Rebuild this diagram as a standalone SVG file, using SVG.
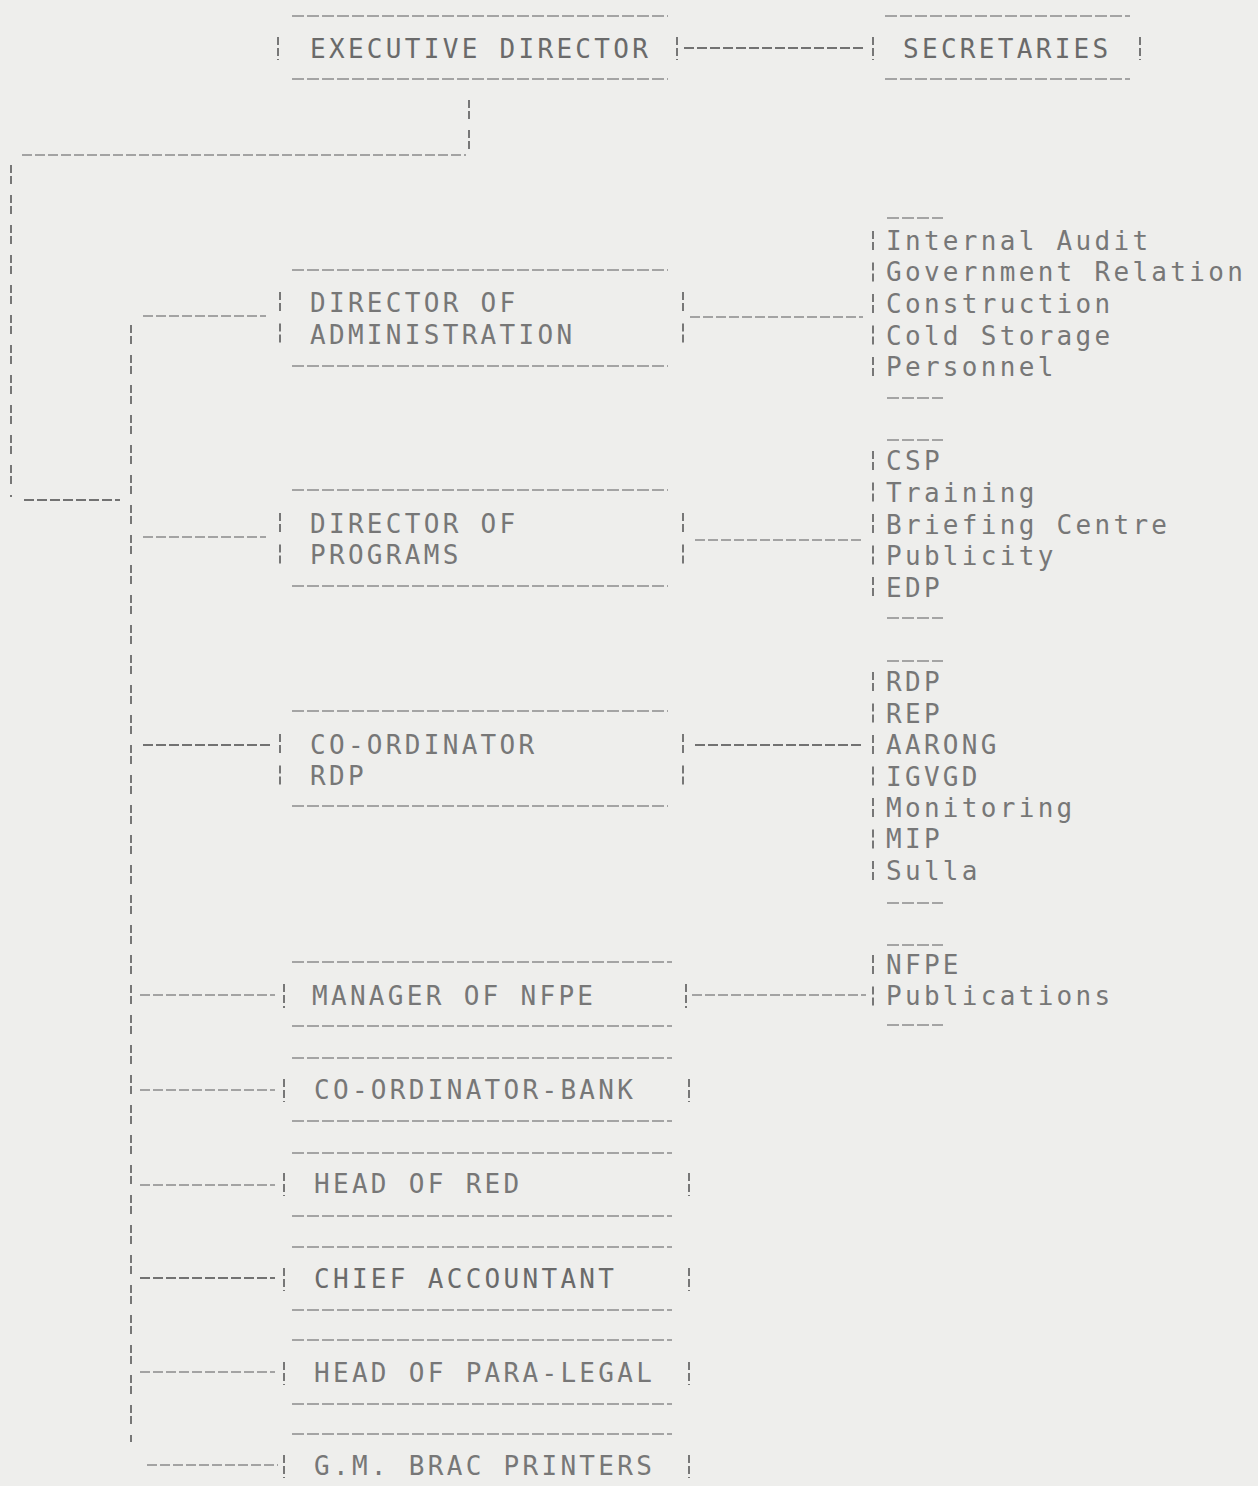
<svg xmlns="http://www.w3.org/2000/svg" width="1258" height="1486" viewBox="0 0 1258 1486">
<style>
.t{font-family:"DejaVu Sans Mono","Liberation Mono",monospace;font-size:26px;letter-spacing:3.3px;fill:#777777}
.h{stroke:#8c8c8c;stroke-width:1.7;stroke-dasharray:12 3;fill:none}
.v{stroke:#777777;stroke-width:2;stroke-dasharray:8 3;fill:none}
.c{stroke:#8a8a8a;stroke-width:1.6;stroke-dasharray:10 3;fill:none}
.s{stroke:#777777;stroke-width:2;stroke-dasharray:8 3 8 11;fill:none}
.lb{stroke:#777777;stroke-width:2;stroke-dasharray:8 3 8 12.5;fill:none}
</style>
<rect width="1258" height="1486" fill="#eeeeec"/>

<g id="connectors">
<line class="c" x1="684" y1="48" x2="866" y2="48" style="stroke-width:2;stroke:#727272"/>
<line class="s" x1="469" y1="100" x2="469" y2="153"/>
<line class="c" x1="22" y1="155" x2="466" y2="155"/>
<line class="s" x1="11" y1="165" x2="11" y2="497"/>
<line class="c" x1="24" y1="500" x2="120" y2="500" style="stroke-width:2;stroke:#727272"/>
<line class="s" x1="131" y1="325" x2="131" y2="1442"/>
<line class="c" x1="143" y1="316" x2="266" y2="316"/>
<line class="c" x1="690" y1="317" x2="863" y2="317"/>
<line class="c" x1="143" y1="537" x2="266" y2="537"/>
<line class="c" x1="695" y1="540" x2="862" y2="540"/>
<line class="c" x1="143" y1="745" x2="270" y2="745" style="stroke-width:2;stroke:#727272"/>
<line class="c" x1="695" y1="745" x2="862" y2="745" style="stroke-width:2;stroke:#727272"/>
<line class="c" x1="140" y1="995" x2="275" y2="995"/>
<line class="c" x1="692" y1="995" x2="866" y2="995"/>
<line class="c" x1="140" y1="1090" x2="275" y2="1090"/>
<line class="c" x1="140" y1="1185" x2="275" y2="1185"/>
<line class="c" x1="140" y1="1278" x2="275" y2="1278" style="stroke-width:2;stroke:#727272"/>
<line class="c" x1="140" y1="1372" x2="275" y2="1372"/>
<line class="c" x1="147" y1="1465" x2="278" y2="1465"/>
</g>

<g id="executive-director">
<line class="h" x1="292" y1="16" x2="668" y2="16"/>
<line class="h" x1="292" y1="79" x2="668" y2="79"/>
<line class="v" x1="278" y1="37" x2="278" y2="60"/>
<line class="v" x1="677" y1="37" x2="677" y2="60"/>
<text class="t" x="310" y="58" style="fill:#6a6a6a">EXECUTIVE DIRECTOR</text>
</g>

<g id="secretaries">
<line class="h" x1="885" y1="16" x2="1130" y2="16"/>
<line class="h" x1="885" y1="79" x2="1130" y2="79"/>
<line class="v" x1="873" y1="37" x2="873" y2="60"/>
<line class="v" x1="1140" y1="37" x2="1140" y2="60"/>
<text class="t" x="903" y="58" style="fill:#6a6a6a">SECRETARIES</text>
</g>

<g id="director-administration">
<line class="h" x1="292" y1="270" x2="668" y2="270"/>
<line class="h" x1="292" y1="366" x2="668" y2="366"/>
<line class="lb" x1="280" y1="292" x2="280" y2="347"/>
<line class="lb" x1="683" y1="292" x2="683" y2="347"/>
<text class="t" x="310" y="312">DIRECTOR OF</text>
<text class="t" x="310" y="344">ADMINISTRATION</text>
</g>

<g id="admin-units">
<line class="h" x1="887" y1="218" x2="943" y2="218"/>
<line class="h" x1="887" y1="398" x2="943" y2="398"/>
<line class="lb" x1="873" y1="231" x2="873" y2="380"/>
<text class="t" x="886" y="250">Internal Audit</text>
<text class="t" x="886" y="281">Government Relation</text>
<text class="t" x="886" y="313">Construction</text>
<text class="t" x="886" y="345">Cold Storage</text>
<text class="t" x="886" y="376">Personnel</text>
</g>

<g id="director-programs">
<line class="h" x1="292" y1="490" x2="668" y2="490"/>
<line class="h" x1="292" y1="586" x2="668" y2="586"/>
<line class="lb" x1="280" y1="513" x2="280" y2="568"/>
<line class="lb" x1="683" y1="513" x2="683" y2="568"/>
<text class="t" x="310" y="533">DIRECTOR OF</text>
<text class="t" x="310" y="564">PROGRAMS</text>
</g>

<g id="programs-units">
<line class="h" x1="887" y1="440" x2="943" y2="440"/>
<line class="h" x1="887" y1="618" x2="943" y2="618"/>
<line class="lb" x1="873" y1="451" x2="873" y2="601"/>
<text class="t" x="886" y="470">CSP</text>
<text class="t" x="886" y="502">Training</text>
<text class="t" x="886" y="534">Briefing Centre</text>
<text class="t" x="886" y="565">Publicity</text>
<text class="t" x="886" y="597">EDP</text>
</g>

<g id="coordinator-rdp">
<line class="h" x1="292" y1="711" x2="668" y2="711"/>
<line class="h" x1="292" y1="806" x2="668" y2="806"/>
<line class="lb" x1="280" y1="734" x2="280" y2="789"/>
<line class="lb" x1="683" y1="734" x2="683" y2="789"/>
<text class="t" x="310" y="754">CO-ORDINATOR</text>
<text class="t" x="310" y="785">RDP</text>
</g>

<g id="rdp-units">
<line class="h" x1="887" y1="661" x2="943" y2="661"/>
<line class="h" x1="887" y1="903" x2="943" y2="903"/>
<line class="lb" x1="873" y1="672" x2="873" y2="885"/>
<text class="t" x="886" y="691">RDP</text>
<text class="t" x="886" y="723">REP</text>
<text class="t" x="886" y="754">AARONG</text>
<text class="t" x="886" y="786">IGVGD</text>
<text class="t" x="886" y="817">Monitoring</text>
<text class="t" x="886" y="848">MIP</text>
<text class="t" x="886" y="880">Sulla</text>
</g>

<g id="manager-nfpe">
<line class="h" x1="292" y1="962" x2="672" y2="962"/>
<line class="h" x1="292" y1="1026" x2="672" y2="1026"/>
<line class="v" x1="284" y1="984" x2="284" y2="1008"/>
<line class="v" x1="686" y1="984" x2="686" y2="1008"/>
<text class="t" x="312" y="1005">MANAGER OF NFPE</text>
</g>

<g id="nfpe-units">
<line class="h" x1="887" y1="945" x2="943" y2="945"/>
<line class="h" x1="887" y1="1025" x2="943" y2="1025"/>
<line class="lb" x1="873" y1="955" x2="873" y2="1009"/>
<text class="t" x="886" y="974">NFPE</text>
<text class="t" x="886" y="1005">Publications</text>
</g>

<g id="coordinator-bank">
<line class="h" x1="292" y1="1058" x2="672" y2="1058"/>
<line class="h" x1="292" y1="1121" x2="672" y2="1121"/>
<line class="v" x1="284" y1="1079" x2="284" y2="1102"/>
<line class="v" x1="689" y1="1079" x2="689" y2="1102"/>
<text class="t" x="314" y="1099">CO-ORDINATOR-BANK</text>
</g>

<g id="head-red">
<line class="h" x1="292" y1="1153" x2="672" y2="1153"/>
<line class="h" x1="292" y1="1216" x2="672" y2="1216"/>
<line class="v" x1="284" y1="1173" x2="284" y2="1196"/>
<line class="v" x1="689" y1="1173" x2="689" y2="1196"/>
<text class="t" x="314" y="1193">HEAD OF RED</text>
</g>

<g id="chief-accountant">
<line class="h" x1="292" y1="1247" x2="672" y2="1247"/>
<line class="h" x1="292" y1="1310" x2="672" y2="1310"/>
<line class="v" x1="284" y1="1268" x2="284" y2="1291"/>
<line class="v" x1="689" y1="1268" x2="689" y2="1291"/>
<text class="t" x="314" y="1288" style="fill:#6a6a6a">CHIEF ACCOUNTANT</text>
</g>

<g id="head-para-legal">
<line class="h" x1="292" y1="1340" x2="672" y2="1340"/>
<line class="h" x1="292" y1="1404" x2="672" y2="1404"/>
<line class="v" x1="284" y1="1362" x2="284" y2="1385"/>
<line class="v" x1="689" y1="1362" x2="689" y2="1385"/>
<text class="t" x="314" y="1382">HEAD OF PARA-LEGAL</text>
</g>

<g id="gm-brac-printers">
<line class="h" x1="292" y1="1434" x2="672" y2="1434"/>
<line class="v" x1="284" y1="1455" x2="284" y2="1478"/>
<line class="v" x1="689" y1="1455" x2="689" y2="1478"/>
<text class="t" x="314" y="1475">G.M. BRAC PRINTERS</text>
</g>
</svg>
